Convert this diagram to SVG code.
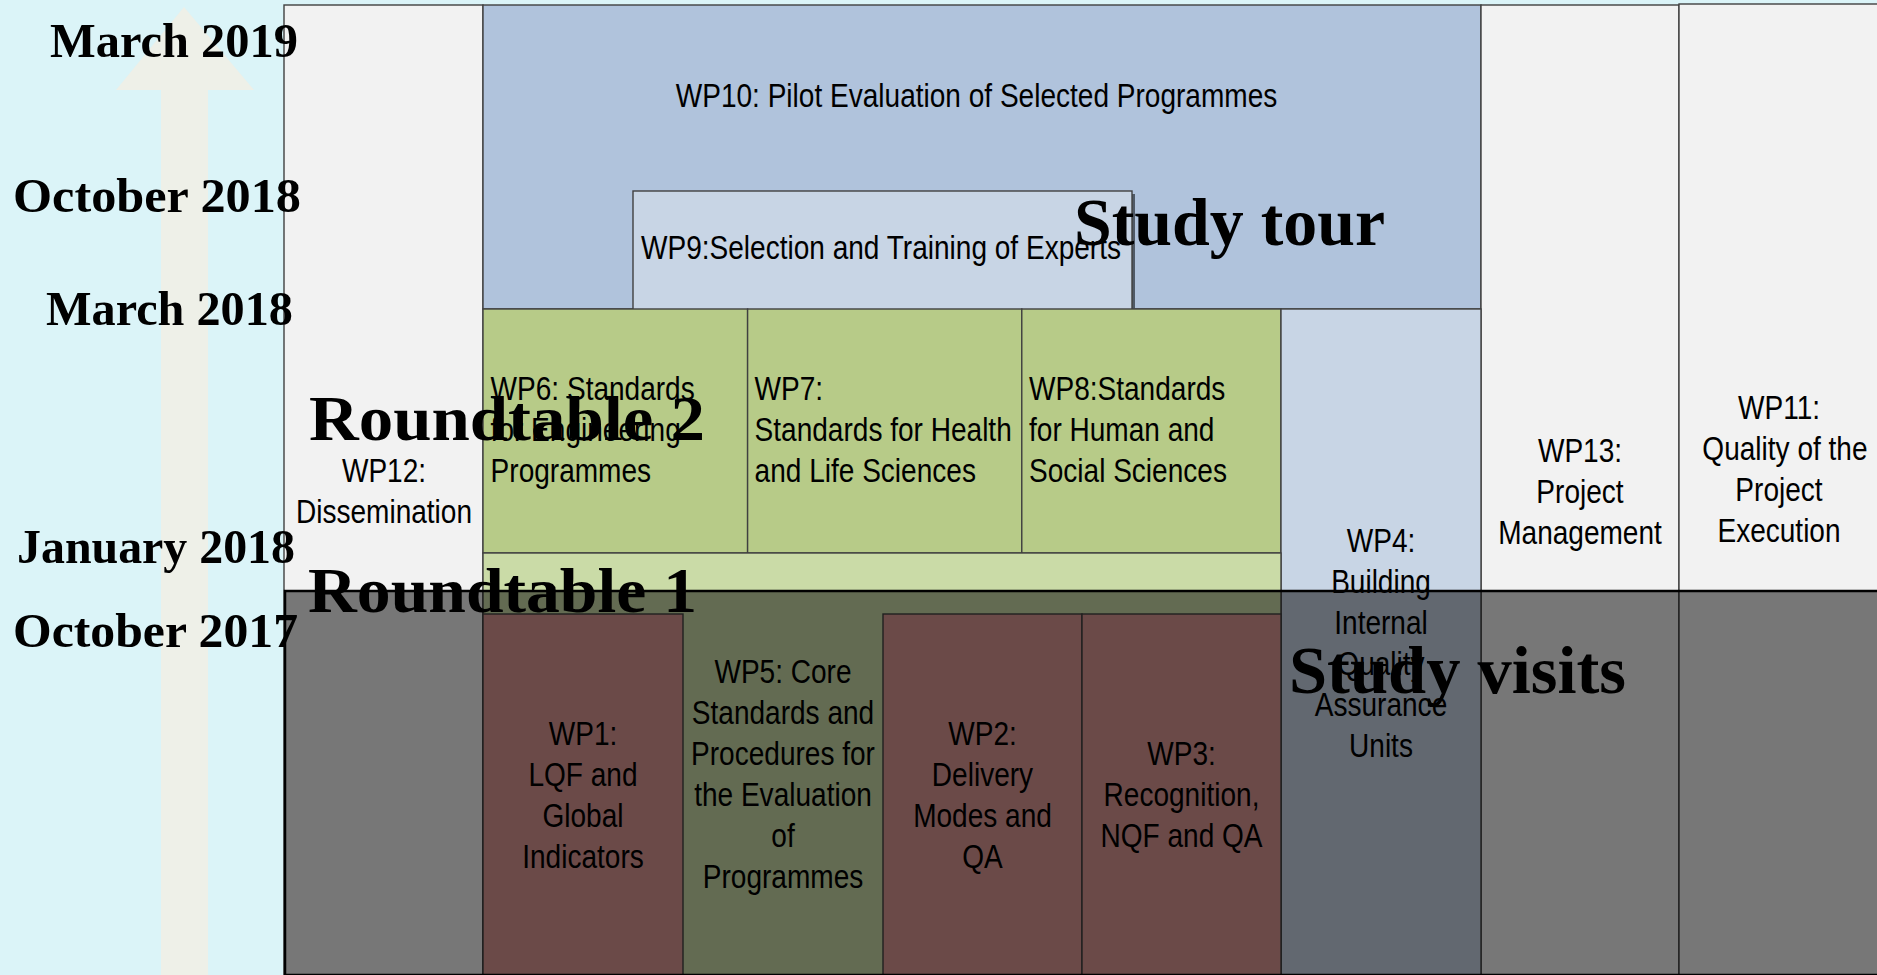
<svg xmlns="http://www.w3.org/2000/svg" width="1877" height="975" viewBox="0 0 1877 975">
<defs>
<style>
.t{font-family:"Liberation Sans",Arial,sans-serif;font-size:33px;fill:#000}
.d{font-family:"Liberation Serif","Times New Roman",serif;font-size:49px;font-weight:bold;fill:#000}
.big{font-family:"Liberation Serif","Times New Roman",serif;font-weight:bold;fill:#000}
.box{stroke:#404040;stroke-width:1.4}
.grey{fill:#F2F2F2}
.blue{fill:#B0C3DC}
.lblue{fill:#C8D5E5}
.green{fill:#B7CB88}
.lgreen{fill:#CADBA7}
.red{fill:#DB9894}
</style>
</defs>
<rect x="0" y="0" width="1877" height="975" fill="#DBF4F8"/>
<g id="timeline-arrow">
<polygon points="184,7 254,90 208,90 208,975 161,975 161,90 116,90" fill="#EEF0E8"/>
</g>
<g id="wp12">
<rect class="box grey" x="284" y="5" width="199" height="970"/>
<text class="t" text-anchor="middle" transform="matrix(0.85 0 0 1 384 0)"><tspan x="0" y="482">WP12:</tspan><tspan x="0" y="523">Dissemination</tspan></text>
</g>
<g id="wp10">
<rect class="box blue" x="483" y="5" width="998" height="304"/>
<text class="t" text-anchor="middle" transform="matrix(0.85 0 0 1 976.5 0)"><tspan x="0" y="107">WP10: Pilot Evaluation of Selected Programmes</tspan></text>
</g>
<g id="wp9">
<rect x="636" y="194" width="499" height="120" fill="#505A66"/>
<rect class="box lblue" x="633" y="191" width="499" height="120"/>
<text class="t" transform="matrix(0.85 0 0 1 641 0)"><tspan x="0" y="259">WP9:Selection and Training of Experts</tspan></text>
</g>
<g id="wp13">
<rect class="box grey" x="1481" y="5" width="198" height="970"/>
<text class="t" text-anchor="middle" transform="matrix(0.85 0 0 1 1580 0)"><tspan x="0" y="462">WP13:</tspan><tspan x="0" y="503">Project</tspan><tspan x="0" y="544">Management</tspan></text>
</g>
<g id="wp11">
<rect class="box grey" x="1679" y="4" width="200" height="971"/>
<text class="t" text-anchor="middle" transform="matrix(0.85 0 0 1 1779 0)"><tspan x="0" y="419">WP11:</tspan><tspan x="7" y="460">Quality of the</tspan><tspan x="0" y="501">Project</tspan><tspan x="0" y="542">Execution</tspan></text>
</g>
<g id="wp6">
<rect class="box green" x="483" y="309" width="264.6" height="244"/>
<text class="t" transform="matrix(0.85 0 0 1 490.6 0)"><tspan x="0" y="400">WP6: Standards</tspan><tspan x="0" y="441">for Engineering</tspan><tspan x="0" y="482">Programmes</tspan></text>
</g>
<g id="wp7">
<rect class="box green" x="747.6" y="309" width="274.2" height="244"/>
<text class="t" transform="matrix(0.85 0 0 1 754.6 0)"><tspan x="0" y="400">WP7:</tspan><tspan x="0" y="441">Standards for Health</tspan><tspan x="0" y="482">and Life Sciences</tspan></text>
</g>
<g id="wp8">
<rect class="box green" x="1021.8" y="309" width="259.2" height="244"/>
<text class="t" transform="matrix(0.85 0 0 1 1029 0)"><tspan x="0" y="400">WP8:Standards</tspan><tspan x="0" y="441">for Human and</tspan><tspan x="0" y="482">Social Sciences</tspan></text>
</g>
<g id="wp4">
<rect class="box lblue" x="1281" y="309" width="200" height="666"/>
<text class="t" text-anchor="middle" transform="matrix(0.85 0 0 1 1381 0)"><tspan x="0" y="552">WP4:</tspan><tspan x="0" y="593">Building</tspan><tspan x="0" y="634">Internal</tspan><tspan x="0" y="675">Quality</tspan><tspan x="0" y="716">Assurance</tspan><tspan x="0" y="757">Units</tspan></text>
</g>
<g id="wp5">
<rect class="box lgreen" x="483" y="553" width="798" height="422"/>
<text class="t" text-anchor="middle" transform="matrix(0.85 0 0 1 783 0)"><tspan x="0" y="683">WP5: Core</tspan><tspan x="0" y="724">Standards and</tspan><tspan x="0" y="765">Procedures for</tspan><tspan x="0" y="806">the Evaluation</tspan><tspan x="0" y="847">of</tspan><tspan x="0" y="888">Programmes</tspan></text>
</g>
<g id="wp1">
<rect class="box red" x="483" y="614" width="200" height="361"/>
<text class="t" text-anchor="middle" transform="matrix(0.85 0 0 1 583 0)"><tspan x="0" y="745">WP1:</tspan><tspan x="0" y="786">LQF and</tspan><tspan x="0" y="827">Global</tspan><tspan x="0" y="868">Indicators</tspan></text>
</g>
<g id="wp2">
<rect class="box red" x="883" y="614" width="199" height="361"/>
<text class="t" text-anchor="middle" transform="matrix(0.85 0 0 1 982.5 0)"><tspan x="0" y="745">WP2:</tspan><tspan x="0" y="786">Delivery</tspan><tspan x="0" y="827">Modes and</tspan><tspan x="0" y="868">QA</tspan></text>
</g>
<g id="wp3">
<rect class="box red" x="1082" y="614" width="199" height="361"/>
<text class="t" text-anchor="middle" transform="matrix(0.85 0 0 1 1181.5 0)"><tspan x="0" y="765">WP3:</tspan><tspan x="0" y="806">Recognition,</tspan><tspan x="0" y="847">NQF and QA</tspan></text>
</g>
<rect id="shade-overlay" x="285" y="591" width="1594" height="384" fill="#000" fill-opacity="0.51" stroke="#000" stroke-width="2.5"/>
<g id="connectors"></g>
<g id="date-labels">
<text class="d" x="50" y="57" textLength="248" lengthAdjust="spacingAndGlyphs">March 2019</text>
<text class="d" x="13" y="212" textLength="288" lengthAdjust="spacingAndGlyphs">October 2018</text>
<text class="d" x="46" y="325" textLength="247" lengthAdjust="spacingAndGlyphs">March 2018</text>
<text class="d" x="17" y="563" textLength="278" lengthAdjust="spacingAndGlyphs">January 2018</text>
<text class="d" x="13" y="647" textLength="285" lengthAdjust="spacingAndGlyphs">October 2017</text>
</g>
<g id="event-labels">
<text class="big" x="309" y="440" font-size="64" textLength="396" lengthAdjust="spacingAndGlyphs">Roundtable 2</text>
<text class="big" x="308" y="612" font-size="64" textLength="389" lengthAdjust="spacingAndGlyphs">Roundtable 1</text>
<text class="big" x="1074" y="245" font-size="67" textLength="311" lengthAdjust="spacingAndGlyphs">Study tour</text>
<text class="big" x="1289" y="693" font-size="68" textLength="337" lengthAdjust="spacingAndGlyphs">Study visits</text>
</g>
</svg>
